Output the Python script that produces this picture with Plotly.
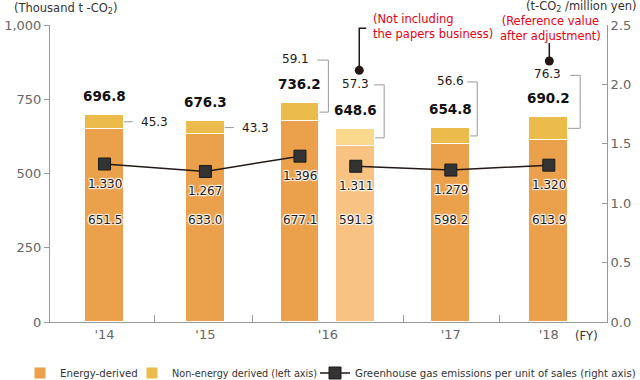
import plotly.graph_objects as go

# ---------------- data ----------------
bar_names = ["FY2014", "FY2015", "FY2016", "FY2016 (excl. papers)", "FY2017", "FY2018"]
energy = [651.5, 633.0, 677.1, 591.3, 598.2, 613.9]
non_energy = [45.3, 43.3, 59.1, 57.3, 56.6, 76.3]
totals = [696.8, 676.3, 736.2, 648.6, 654.8, 690.2]
intensity = [1.330, 1.267, 1.396, 1.311, 1.279, 1.320]
fy_labels = ["'14", "'15", "'16", "'17", "'18"]
note_16 = "(Not including<br>the papers business)"
note_18 = "(Reference value<br>after adjustment)"

# ---------------- layout constants ----------------
FONT = "DejaVu Sans"
BAR_X = [0.0, 1.04, 2.015, 2.59, 3.57, 4.58]
BAR_W = 0.40
GROUP_OF_BAR = [0, 1, 2, 2, 3, 4]
ENERGY_LABEL_Y = 343
C_EN = ["#EBA04B", "#EBA04B", "#EBA04B", "#F8C282", "#EBA04B", "#EBA04B"]
C_NE = ["#EBBC4B", "#EBBC4B", "#EBBC4B", "#FAD98C", "#EBBC4B", "#EBBC4B"]
TXT = "#231815"
GRAY = "#999999"
HALO = "1px 1px 1px #fff, -1px -1px 1px #fff, 1px -1px 1px #fff, -1px 1px 1px #fff, 0 0 2px #fff"
# non-energy label geometry (pixels relative to bar right edge / segment middle)
SIDE = {0: 15, 1: 15}
BRACKET = {2: (-8, -2, 9, 52), 3: (-4, -1, 9, 53), 4: (-4, -3, 7, 54), 5: (-5, 2, 12, 53)}

group_x = []
for g in range(len(fy_labels)):
    xs = [BAR_X[i] for i in range(len(BAR_X)) if GROUP_OF_BAR[i] == g]
    group_x.append(sum(xs) / len(xs))
minor_x = [(BAR_X[i] + BAR_X[i + 1]) / 2 for i in range(len(BAR_X) - 1)
           if GROUP_OF_BAR[i] != GROUP_OF_BAR[i + 1]]

fig = go.Figure()
fig.add_trace(go.Bar(
    x=BAR_X, y=energy, width=BAR_W, name="Energy-derived", legend="legend", showlegend=True,
    marker=dict(color=C_EN, line=dict(color="white", width=1)), hoverinfo="skip"))
fig.add_trace(go.Bar(
    x=BAR_X, y=non_energy, width=BAR_W, name="Non-energy derived (left axis)", legend="legend2",
    showlegend=True,
    marker=dict(color=C_NE, line=dict(color="white", width=1)), hoverinfo="skip"))

line_x = BAR_X[:3] + [None] + BAR_X[3:]
line_y = intensity[:3] + [None] + intensity[3:]
fig.add_trace(go.Scatter(
    x=line_x, y=line_y, yaxis="y2", mode="lines+markers", connectgaps=False,
    name="Greenhouse gas emissions per unit of sales (right axis)", legend="legend3",
    showlegend=True,
    line=dict(color=TXT, width=1.5),
    marker=dict(symbol="square", size=12, color="#333333", line=dict(color="#1a1a1a", width=1)),
    hoverinfo="skip"))

ann = []
shapes = []
for i in range(len(BAR_X)):
    x = BAR_X[i]
    edge = x + BAR_W / 2
    ann.append(dict(x=x, y=totals[i], xref="x", yref="y", text=f"{totals[i]:.1f}", showarrow=False,
                    yshift=19, font=dict(family=FONT, size=13.5, color="#111", weight="bold")))
    ann.append(dict(x=x, y=ENERGY_LABEL_Y, xref="x", yref="y", text=f"{energy[i]:.1f}", showarrow=False,
                    font=dict(family=FONT, size=12, color=TXT, shadow=HALO)))
    ann.append(dict(x=x, y=intensity[i], xref="x", yref="y2", text=f"{intensity[i]:.3f}", showarrow=False,
                    yshift=-20, font=dict(family=FONT, size=12, color=TXT, shadow=HALO)))
    mid = energy[i] + non_energy[i] / 2
    if i in SIDE:
        ann.append(dict(x=edge, y=mid, xref="x", yref="y", text=f"{non_energy[i]:.1f}", showarrow=False,
                        xanchor="left", xshift=SIDE[i], font=dict(family=FONT, size=12, color=TXT)))
        shapes.append(dict(type="line", xref="x", yref="y", xsizemode="pixel", xanchor=edge,
                           x0=0, x1=9, y0=mid, y1=mid, line=dict(color=GRAY, width=1)))
    else:
        tdx, l0, vx, h = BRACKET[i]
        ann.append(dict(x=edge, y=mid, xref="x", yref="y", text=f"{non_energy[i]:.1f}", showarrow=False,
                        xanchor="right", xshift=tdx, yshift=h + 1,
                        font=dict(family=FONT, size=12, color=TXT)))
        shapes.append(dict(type="path", xref="x", yref="y", xsizemode="pixel", ysizemode="pixel",
                           xanchor=edge, yanchor=mid,
                           path=f"M{l0},{h} H{vx} V0 H0", line=dict(color=GRAY, width=1)))

# notes with pins
def pin(i, dx, dot_dy, top_dy, right_dx=None):
    x = BAR_X[i]
    p = f"M{dx},{dot_dy} V{top_dy}"
    if right_dx is not None:
        p += f" H{right_dx}"
    shapes.append(dict(type="path", xref="x", yref="y", xsizemode="pixel", ysizemode="pixel",
                       xanchor=x, yanchor=totals[i], path=p, line=dict(color="#231815", width=1.5)))
    shapes.append(dict(type="circle", xref="x", yref="y", xsizemode="pixel", ysizemode="pixel",
                       xanchor=x, yanchor=totals[i], x0=dx - 4.5, x1=dx + 4.5,
                       y0=dot_dy - 4.5, y1=dot_dy + 4.5,
                       fillcolor="#231815", line=dict(color="#231815", width=0)))

pin(3, 3.5, 59, 101, 10.5)
pin(5, 0.5, 56, 74)
ann.append(dict(x=BAR_X[3], y=totals[3], xref="x", yref="y", text=note_16, showarrow=False,
                xanchor="left", align="left", xshift=15, yshift=103,
                font=dict(family=FONT, size=11.5, color="#E60012")))
ann.append(dict(x=BAR_X[5], y=totals[5], xref="x", yref="y", text=note_18, showarrow=False,
                xanchor="center", align="center", xshift=1.5, yshift=89,
                font=dict(family=FONT, size=11.5, color="#E60012")))

# axis titles / FY
ann.append(dict(x=0.0, y=1.0, xref="paper", yref="paper", xanchor="left", yanchor="middle",
                xshift=-38, yshift=17, text="(Thousand t -CO<sub>2</sub>)", showarrow=False,
                font=dict(family=FONT, size=11.5, color="#333")))
ann.append(dict(x=1.0, y=1.0, xref="paper", yref="paper", xanchor="right", yanchor="middle",
                xshift=32, yshift=18.5, text="(t-CO<sub>2</sub> /million yen)", showarrow=False,
                font=dict(family=FONT, size=11.5, color="#333")))
ann.append(dict(x=0.987, y=0, xref="paper", yref="paper", yanchor="top", yshift=-5,
                text="(FY)", showarrow=False, font=dict(family=FONT, size=11.5, color="#333")))

LEG = dict(orientation="h", xref="container", yref="container", y=7 / 380,
           xanchor="left", yanchor="middle", bgcolor="rgba(0,0,0,0)", borderwidth=0,
           visible=True)

fig.update_layout(
    width=640, height=380, autosize=False,
    margin=dict(l=50, r=33, t=25, b=58, autoexpand=False),
    paper_bgcolor="white", plot_bgcolor="white",
    barmode="stack", bargap=0, showlegend=True,
    font=dict(family=FONT, size=12, color=TXT),
    xaxis=dict(range=[-0.562, 5.18], showgrid=False, zeroline=False,
               showline=True, linecolor=GRAY, linewidth=1,
               tickmode="array", tickvals=group_x, ticktext=fy_labels, ticks="",
               tickfont=dict(family=FONT, size=13, color="#666"),
               minor=dict(tickmode="array", tickvals=minor_x, ticks="inside", ticklen=7,
                          tickcolor=GRAY, tickwidth=1)),
    yaxis=dict(range=[0, 1000], tickvals=[0, 250, 500, 750, 1000], tickformat=",d",
               showgrid=False, zeroline=False, showline=True, linecolor=GRAY, linewidth=1,
               ticks="outside", ticklen=5, tickcolor=GRAY,
               tickfont=dict(family=FONT, size=13, color="#666")),
    yaxis2=dict(range=[0, 2.5], tickvals=[0, 0.5, 1.0, 1.5, 2.0, 2.5], tickformat=".1f",
                overlaying="y", side="right", anchor="x",
                showgrid=False, zeroline=False, showline=True, linecolor=GRAY, linewidth=1,
                ticks="inside", ticklen=5, tickcolor=GRAY,
                tickfont=dict(family=FONT, size=13, color="#666")),
    legend=dict(LEG, x=20 / 640, font=dict(family=FONT, size=10.2, color="#333")),
    legend2=dict(LEG, x=132 / 640, font=dict(family=FONT, size=9.7, color="#333")),
    legend3=dict(LEG, x=315 / 640, font=dict(family=FONT, size=10.2, color="#333")),
    annotations=ann, shapes=shapes,
)

fig.write_html("out.html", config={"displayModeBar": False},
               post_script="document.body.style.margin='0';document.body.style.overflow='hidden';")
